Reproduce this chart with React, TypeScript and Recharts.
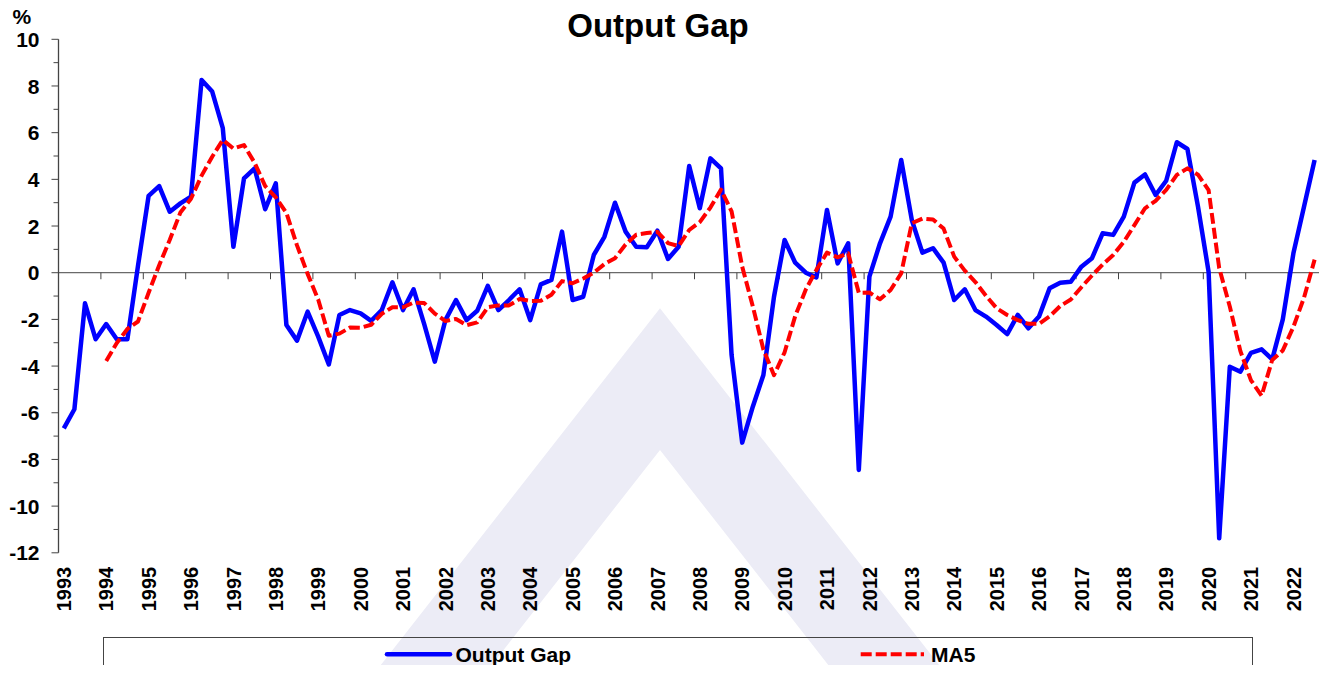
import React from 'react';
import { LineChart, Line, XAxis, YAxis, ReferenceLine, Legend } from 'recharts';

const FONT = '"Liberation Sans", Arial, Helvetica, sans-serif';

const years = [
  1993, 1994, 1995, 1996, 1997, 1998, 1999, 2000, 2001, 2002,
  2003, 2004, 2005, 2006, 2007, 2008, 2009, 2010, 2011, 2012,
  2013, 2014, 2015, 2016, 2017, 2018, 2019, 2020, 2021, 2022,
];

const quarterNames = ['Q1', 'Q2', 'Q3', 'Q4'];

// 1993 Q1 - 2022 Q3
const outputGap = [
  -6.67, -5.85, -1.31, -2.85,
  -2.2, -2.85, -2.85, 0.3,
  3.29, 3.71, 2.61, 2.97,
  3.26, 8.26, 7.76, 6.19,
  1.11, 4.04, 4.47, 2.72,
  3.83, -2.24, -2.91, -1.67,
  -2.74, -3.93, -1.81, -1.6,
  -1.74, -2.06, -1.6, -0.41,
  -1.6, -0.71, -2.2, -3.81,
  -2.03, -1.17, -2.03, -1.63,
  -0.56, -1.6, -1.17, -0.71,
  -2.03, -0.5, -0.31, 1.76,
  -1.17, -1.03, 0.76, 1.54,
  3.0, 1.76, 1.11, 1.09,
  1.8, 0.59, 1.11, 4.57,
  2.76, 4.9, 4.47, -3.53,
  -7.28, -5.74, -4.38, -1.03,
  1.4, 0.43, 0.0, -0.2,
  2.69, 0.4, 1.26, -8.45,
  -0.17, 1.26, 2.4, 4.83,
  2.26, 0.86, 1.05, 0.43,
  -1.17, -0.71, -1.6, -1.88,
  -2.24, -2.63, -1.81, -2.38,
  -1.88, -0.67, -0.43, -0.39,
  0.26, 0.62, 1.69, 1.62,
  2.4, 3.86, 4.21, 3.33,
  3.94, 5.59, 5.3, 2.83,
  0.04, -11.38, -4.03, -4.24,
  -3.43, -3.28, -3.71, -2.0,
  0.83, 2.83, 4.83,
];

const ma5 = [
  null, null, null, null,
  -3.78, -3.01, -2.41, -2.09,
  -0.86, 0.32, 1.41, 2.58,
  3.17, 4.16, 4.97, 5.69,
  5.32, 5.47, 4.71, 3.71,
  3.23, 2.56, 1.17, -0.05,
  -1.15, -2.7, -2.61, -2.35,
  -2.36, -2.23, -1.76, -1.48,
  -1.48, -1.28, -1.3, -1.75,
  -2.07, -1.98, -2.25, -2.13,
  -1.48, -1.4, -1.4, -1.13,
  -1.21, -1.2, -0.94, -0.36,
  -0.45, -0.25, 0.0, 0.37,
  0.62, 1.21, 1.63, 1.7,
  1.75, 1.27, 1.14, 1.83,
  2.17, 2.79, 3.56, 2.63,
  0.26, -1.44, -3.29, -4.39,
  -3.41, -1.86, -0.72, 0.12,
  0.86, 0.66, 0.83, -0.86,
  -0.85, -1.14, -0.74, -0.03,
  2.12, 2.32, 2.28, 1.89,
  0.69, 0.09, -0.4, -0.99,
  -1.52, -1.81, -2.03, -2.19,
  -2.19, -1.87, -1.43, -1.15,
  -0.62, -0.12, 0.35, 0.76,
  1.32, 2.04, 2.76, 3.08,
  3.55, 4.19, 4.47, 4.2,
  3.54, 0.2, -1.45, -3.36,
  -4.61, -5.27, -3.74, -3.33,
  -2.32, -1.07, 0.56,
];

const yTicks = [-12, -11, -10, -9, -8, -7, -6, -5, -4, -3, -2, -1, 0, 1, 2, 3, 4, 5, 6, 7, 8, 9, 10];

const quarters = years
  .flatMap((y) => quarterNames.map((q) => `${y} ${q}`))
  .slice(0, outputGap.length);

const data = quarters.map((q, i) => ({
  idx: i,
  quarter: q,
  gap: outputGap[i],
  ma5: ma5[i],
}));

const xLabelTicks = years.map((_, k) => k * 4);
const yearBoundaries = years.map((_, k) => k * 4 - 0.5);

const AXIS_COLOR = '#444444';
const W = 1327;
const H = 673;

const XTick = (props: any) => {
  const { x, y, payload } = props;
  const label = years[Math.round(payload.value / 4)];
  return (
    <text
      x={x}
      y={y}
      transform={`rotate(-90, ${x}, ${y})`}
      textAnchor="end"
      dy="0.36em"
      fontSize={20}
      fontWeight={700}
      fontFamily={FONT}
      fill="#000"
    >
      {label}
    </text>
  );
};

const YTick = (props: any) => {
  const { x, y, payload } = props;
  const v = payload.value;
  const major = v % 2 === 0;
  return (
    <g>
      <line x1={x - (major ? 7 : 5)} x2={x} y1={y} y2={y} stroke={AXIS_COLOR} strokeWidth={1} />
      {major && (
        <text
          x={x - 19}
          y={y}
          dy="0.36em"
          textAnchor="end"
          fontSize={21}
          fontWeight={700}
          fontFamily={FONT}
          fill="#000"
        >
          {v}
        </text>
      )}
    </g>
  );
};

const renderLegend = () => (
  <svg width={1150} height={50} style={{ display: 'block', overflow: 'visible' }}>
    <rect x={0.5} y={0.5} width={1149} height={80} fill="none" stroke={AXIS_COLOR} strokeWidth={1} />
    <line x1={284} x2={347} y1={17.3} y2={17.3} stroke="#0000FF" strokeWidth={4.5} strokeLinecap="round" />
    <text x={352.5} y={24.7} fontSize={21} fontWeight={700} fontFamily={FONT} fill="#000">
      Output Gap
    </text>
    <line x1={757.7} x2={821} y1={17.3} y2={17.3} stroke="#FF0000" strokeWidth={4} strokeDasharray="11 4" />
    <text x={828} y={24.7} fontSize={21} fontWeight={700} fontFamily={FONT} fill="#000">
      MA5
    </text>
  </svg>
);

export default function App() {
  return (
    <div
      style={{
        position: 'relative',
        width: W,
        height: H,
        overflow: 'hidden',
        marginTop: -8,
        marginLeft: -8,
        marginBottom: -8,
        marginRight: -8,
        background: '#ffffff',
      }}
    >
      <svg width={W} height={H} style={{ position: 'absolute', left: 0, top: 0 }}>
        <polygon
          points="660,308.3 974.4,710 863.5,710 660,450 456.5,710 345.6,710"
          fill="#ECECF6"
        />
      </svg>
      <div style={{ position: 'absolute', left: 0, top: 0 }}>
        <LineChart
          width={W}
          height={708}
          data={data}
          margin={{ top: 39.3, right: 7.1, left: 0, bottom: 21 }}
        >
          <XAxis
            dataKey="idx"
            type="number"
            domain={[-0.5, 118.5]}
            ticks={xLabelTicks}
            interval={0}
            tickSize={0}
            tickMargin={14}
            axisLine={false}
            tickLine={false}
            height={84.2}
            tick={(p: any) => <XTick {...p} />}
          />
          <YAxis
            type="number"
            domain={[-12, 10]}
            ticks={yTicks}
            interval={0}
            width={58.5}
            tickSize={0}
            tickMargin={0}
            tickLine={false}
            axisLine={{ stroke: AXIS_COLOR, strokeWidth: 1.3 }}
            allowDataOverflow
            tick={(p: any) => <YTick {...p} />}
          />
          <ReferenceLine y={0} stroke={AXIS_COLOR} strokeWidth={1} />
          {yearBoundaries.map((b) => (
            <ReferenceLine
              key={`tb${b}`}
              segment={[
                { x: b, y: 0 },
                { x: b, y: -0.28 },
              ]}
              stroke={AXIS_COLOR}
              strokeWidth={1}
            />
          ))}
          <Line
            type="linear"
            dataKey="gap"
            name="Output Gap"
            stroke="#0000FF"
            strokeWidth={4.5}
            strokeLinejoin="round"
            dot={false}
            activeDot={false}
            isAnimationActive={false}
          />
          <Line
            type="linear"
            dataKey="ma5"
            name="MA5"
            stroke="#FF0000"
            strokeWidth={4}
            strokeDasharray="11 4"
            strokeLinejoin="round"
            dot={false}
            activeDot={false}
            isAnimationActive={false}
          />
          <Legend content={renderLegend} wrapperStyle={{ left: 103, width: 1150, height: 50 }} />
        </LineChart>
      </div>
      <svg width={W} height={H} style={{ position: 'absolute', left: 0, top: 0, pointerEvents: 'none' }}>
        <text x={658} y={36.7} textAnchor="middle" fontSize={33} fontWeight={700} fontFamily={FONT} fill="#000">
          Output Gap
        </text>
        <text x={12.5} y={24} fontSize={21} fontWeight={700} fontFamily={FONT} fill="#000">
          %
        </text>
      </svg>
    </div>
  );
}
